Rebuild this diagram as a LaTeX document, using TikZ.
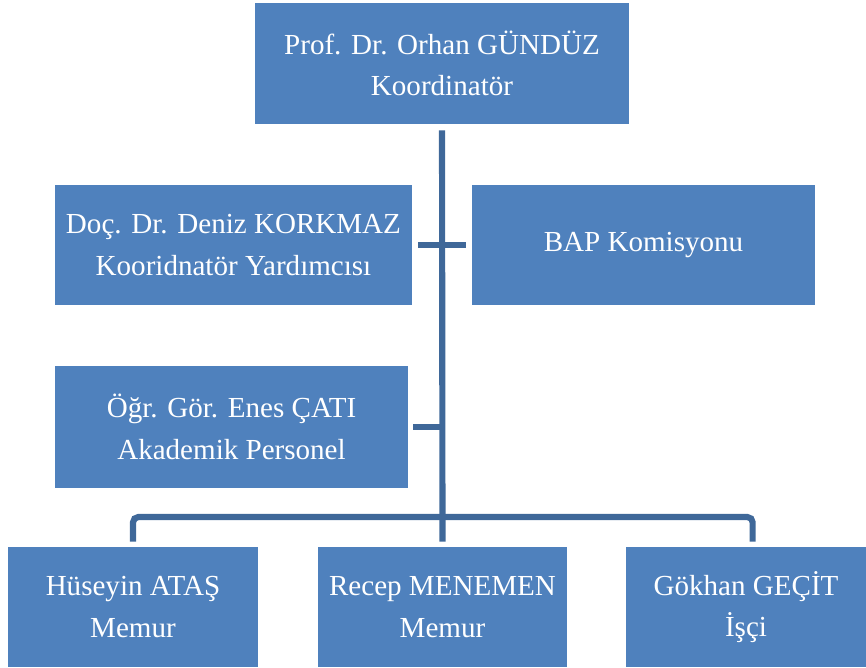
\documentclass[tikz,border=0pt]{standalone}
\usepackage{fontspec}
\setmainfont{Liberation Serif}
\definecolor{boxblue}{HTML}{4F81BD}
\definecolor{lineblue}{HTML}{3F6899}
\tikzset{
  unitbox/.style={fill=boxblue, text=white, align=center, inner sep=0pt,
    font=\fontsize{21.8}{31}\selectfont},
  link/.style={draw=lineblue, line width=4.6pt}
}
\begin{document}
\begin{tikzpicture}[x=0.75pt, y=-0.75pt]
\useasboundingbox (0, 0) rectangle (866, 667);

% boxes
\node[unitbox, minimum width=280.5pt, minimum height=90.75pt] (orhan) at (442, 63.5) {Prof. Dr. Orhan GÜNDÜZ\\Koordinatör};
\node[unitbox, minimum width=267.75pt, minimum height=90pt] (deniz) at (233.5, 245) {Doç. Dr. Deniz KORKMAZ\\Kooridnatör Yardımcısı};
\node[unitbox, minimum width=257.25pt, minimum height=90pt] (bap) at (643.5, 245) {BAP Komisyonu};
\node[unitbox, minimum width=264.75pt, minimum height=91.5pt] (enes) at (231.5, 427) {Öğr. Gör. Enes ÇATI\\Akademik Personel};

\node[unitbox, minimum width=187.5pt, minimum height=90pt] (huseyin) at (133, 607) {Hüseyin ATAŞ\\Memur};
\node[unitbox, minimum width=186.75pt, minimum height=90pt] (recep) at (442.5, 607) {Recep MENEMEN\\Memur};
\node[unitbox, minimum width=180pt, minimum height=90pt] (gokhan) at (746, 607) {Gökhan GEÇİT\\İşçi};

\coordinate (bus) at (442, 517);

% connectors
\draw[link, shorten <=4.5pt, shorten >=3.75pt] (orhan.south) -- (recep.north);
\draw[link, shorten <=4.5pt, shorten >=4.5pt] (deniz.east) -- (bap.west);
\draw[link, shorten <=3.75pt] (enes.east) -- (enes.east -| orhan.south);
\draw[link, rounded corners=4pt, shorten <=3.75pt, shorten >=3.75pt] (huseyin.north) |- (bus) -| ([xshift=5pt]gokhan.north);

\end{tikzpicture}
\end{document}
